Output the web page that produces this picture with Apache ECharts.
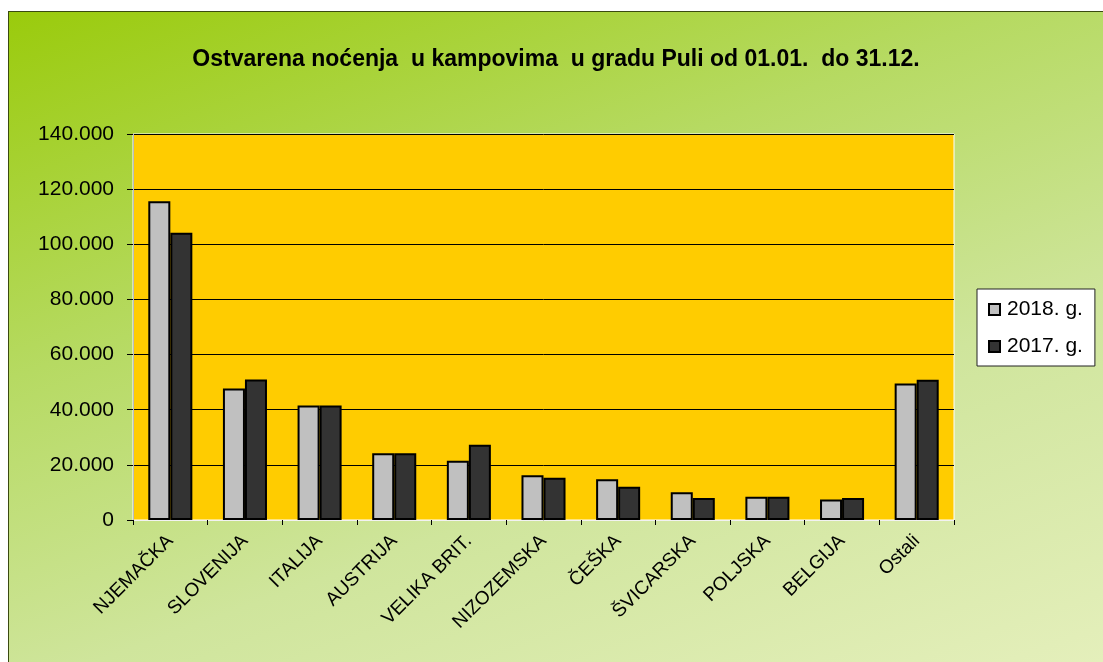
<!DOCTYPE html>
<html>
<head>
    <meta charset="UTF-8">
    <title>Noćenja u kampovima</title>
    <script src="https://cdn.jsdelivr.net/npm/echarts@6/dist/echarts.min.js"></script>
    <style>
        html, body { margin: 0; padding: 0; background: #ffffff; overflow: hidden; }
        #main {
            position: absolute; left: 8px; top: 11px;
            width: 1094px; height: 650px;
            border-left: 1px solid #3a4a10; border-top: 1px solid #3a4a10;
            background: linear-gradient(160deg, #9acb0c 0%, #b6da62 35%, #cfe59c 65%, #e4efbb 100%);
        }
    </style>
</head>
<body>
    <div id="main"></div>
    <script type="text/javascript">
        var myChart = echarts.init(document.getElementById('main'));

        // podaci
        var categories = ['NJEMAČKA', 'SLOVENIJA', 'ITALIJA', 'AUSTRIJA', 'VELIKA BRIT.', 'NIZOZEMSKA', 'ČEŠKA', 'ŠVICARSKA', 'POLJSKA', 'BELGIJA', 'Ostali'];
        var data2018 = [115600, 47700, 41500, 24200, 21500, 16200, 14800, 10100, 8400, 7400, 49500];
        var data2017 = [104200, 51000, 41500, 24200, 27300, 15300, 12100, 8000, 8400, 8000, 50900];
        var yTicks = [0, 20000, 40000, 60000, 80000, 100000, 120000, 140000];

        function fmt(v) {
            return v === 0 ? '0' : String(v).replace(/\B(?=(\d{3})+(?!\d))/g, '.');
        }

        var option = {
            backgroundColor: 'transparent',
            animation: false,
            textStyle: { fontFamily: 'Liberation Sans', color: '#000' },
            title: {
                text: 'Ostvarena noćenja  u kampovima  u gradu Puli od 01.01.  do 31.12.',
                left: 'center',
                top: 31,
                textStyle: { fontSize: 23, fontWeight: 'bold', color: '#000', fontFamily: 'Liberation Sans' }
            },
            legend: {
                orient: 'vertical',
                left: 968,
                top: 277,
                backgroundColor: '#ffffff',
                borderColor: '#222',
                borderWidth: 1,
                borderRadius: 0,
                padding: [10, 12, 9, 11],
                itemWidth: 11,
                itemHeight: 11,
                itemGap: 16,
                icon: 'rect',
                textStyle: { fontSize: 21, color: '#000', fontFamily: 'Liberation Sans', padding: [0, 0, 0, 2] },
                data: ['2018. g.', '2017. g.']
            },
            grid: {
                left: 124,
                top: 122,
                right: 149,
                bottom: 142,
                show: true,
                backgroundColor: '#ffcc00',
                borderColor: '#ffffff',
                borderWidth: 1
            },
            xAxis: {
                type: 'category',
                data: categories,
                axisLine: { lineStyle: { color: '#f2f2f2', width: 1 } },
                axisTick: { show: true, length: 5, lineStyle: { color: '#000' } },
                axisLabel: {
                    rotate: 45,
                    margin: 18,
                    fontSize: 19,
                    color: '#000',
                    fontFamily: 'Liberation Sans',
                    interval: 0
                }
            },
            yAxis: {
                type: 'value',
                min: 0,
                max: 140000,
                interval: 20000,
                axisLine: { show: true, lineStyle: { color: '#bdbdbd', width: 1 } },
                axisTick: { show: true, length: 6, lineStyle: { color: '#000' } },
                axisLabel: {
                    margin: 19,
                    fontSize: 21,
                    color: '#000',
                    fontFamily: 'Liberation Sans',
                    formatter: function (v) { return yTicks.indexOf(v) >= 0 ? fmt(v) : ''; }
                },
                splitLine: { show: true, lineStyle: { color: '#000', width: 1 } }
            },
            series: [
                {
                    name: '2018. g.',
                    type: 'bar',
                    data: data2018,
                    barGap: '0%',
                    barCategoryGap: '41%',
                    itemStyle: { color: '#c0c0c0', borderColor: '#000', borderWidth: 2 }
                },
                {
                    name: '2017. g.',
                    type: 'bar',
                    data: data2017,
                    itemStyle: { color: '#333333', borderColor: '#000', borderWidth: 2 }
                }
            ]
        };

        myChart.setOption(option);
    </script>
</body>
</html>
